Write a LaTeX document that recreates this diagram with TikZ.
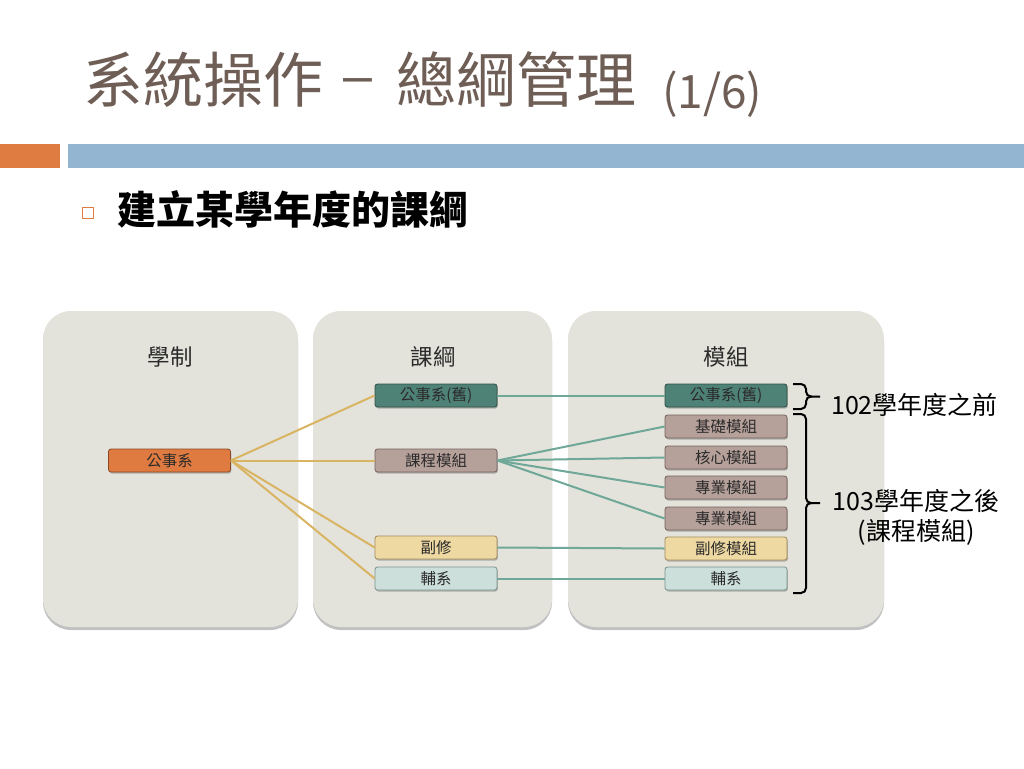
\documentclass[tikz,border=0pt]{standalone}
\usepackage{fontspec}
\setmainfont{Noto Sans CJK TC}
\newfontfamily\latinfont{Liberation Sans}
\usetikzlibrary{shadows}
\definecolor{titlecol}{HTML}{6E5E55}
\definecolor{barorange}{HTML}{DE7C42}
\definecolor{barblue}{HTML}{93B5D1}
\definecolor{panelfill}{HTML}{E3E3DB}
\definecolor{txtgray}{HTML}{2B2B2B}
\definecolor{goldln}{HTML}{D9B462}
\definecolor{tealln}{HTML}{6FA798}
\definecolor{fOrange}{HTML}{DF7B40}
\definecolor{dOrange}{HTML}{8A4A25}
\definecolor{fTeal}{HTML}{4F8276}
\definecolor{dTeal}{HTML}{2F4E47}
\definecolor{fMauve}{HTML}{B5A09A}
\definecolor{dMauve}{HTML}{76625C}
\definecolor{fYellow}{HTML}{EFD9A3}
\definecolor{dYellow}{HTML}{A08A5C}
\definecolor{fLight}{HTML}{CCDFDB}
\definecolor{dLight}{HTML}{7A928D}
\tikzset{
  panel/.style={fill=panelfill, rounded corners=28pt, draw=none,
    drop shadow={shadow xshift=0pt, shadow yshift=-3pt, opacity=0.4, fill=black!60}},
  box/.style={rectangle, rounded corners=2.5pt, minimum width=122pt, minimum height=23pt,
    inner sep=0pt, line width=0.8pt, text=txtgray, font=\fontsize{15.5}{17}\selectfont,
    drop shadow={shadow xshift=0.8pt, shadow yshift=-1.5pt, opacity=0.35, fill=black!70}},
  boxO/.style={box, fill=fOrange, draw=dOrange},
  boxT/.style={box, fill=fTeal, draw=dTeal},
  boxM/.style={box, fill=fMauve, draw=dMauve},
  boxY/.style={box, fill=fYellow, draw=dYellow},
  boxL/.style={box, fill=fLight, draw=dLight},
  head/.style={text=txtgray, font=\fontsize{22.5}{26}\selectfont, inner sep=0pt},
  titletext/.style={inner sep=0pt, text=titlecol},
  goldline/.style={draw=goldln, line width=2pt},
  tealline/.style={draw=tealln, line width=2pt},
  bracepath/.style={draw=black, line width=2pt, rounded corners=5pt},
  note/.style={text=black, font=\fontsize{25}{30}\selectfont, inner sep=0pt, align=center}
}
\begin{document}
\begin{tikzpicture}[x=1pt,y=-1pt]
\useasboundingbox[fill=white] (0,0) rectangle (1024,768);

% title
\node[titletext, anchor=base west, font=\fontsize{60}{66}\selectfont] (t1) at (83,102) {系統操作};
\node[titletext, anchor=base, font=\fontsize{52}{58}\latinfont] (t2) at (357.5,93) {–};
\node[titletext, anchor=base west, font=\fontsize{60}{66}\selectfont] (t3) at (396,102) {總綱管理};
\node[titletext, anchor=base west, font=\fontsize{46}{52}\selectfont] (t4) at (662,108) {(1/6)};

% bars
\fill[barorange] (0,144) rectangle (60,168);
\fill[barblue] (68,144) rectangle (1024,168);

% bullet
\node[draw=barorange, line width=1pt, minimum size=11pt, inner sep=0pt] (bul) at (87.5,212.5) {};
\node[anchor=west, inner sep=0pt, text=black, font=\fontsize{39}{44}\selectfont\bfseries] (sub) at (117,209) {建立某學年度的課綱};

% panels
\fill[panel] (43,311) rectangle (298,627);
\fill[panel] (313,311) rectangle (552,627);
\fill[panel] (568,311) rectangle (884,627);

\node[head] (h1) at (170,357) {學制};
\node[head] (h2) at (433,357) {課綱};
\node[head] (h3) at (726,357) {模組};

% nodes
\node[boxO] (gs) at (169.5,460.5) {公事系};

\node[boxT] (mo) at (436,395.5) {公事系(舊)};
\node[boxM] (mk) at (436,460.5) {課程模組};
\node[boxY] (mf) at (436,547.5) {副修};
\node[boxL] (mb) at (436,578.5) {輔系};

\node[boxT] (r0) at (726,395.5) {公事系(舊)};
\node[boxM] (r1) at (726,426.5) {基礎模組};
\node[boxM] (r2) at (726,457.5) {核心模組};
\node[boxM] (r3) at (726,487.5) {專業模組};
\node[boxM] (r4) at (726,518.5) {專業模組};
\node[boxY] (r5) at (726,548.5) {副修模組};
\node[boxL] (r6) at (726,578.5) {輔系};

% connectors
\draw[goldline] (gs.east) -- (mo.west);
\draw[goldline] (gs.east) -- (mk.west);
\draw[goldline] (gs.east) -- (mf.west);
\draw[goldline] (gs.east) -- (mb.west);

\draw[tealline] (mo.east) -- (r0.west);
\draw[tealline] (mk.east) -- (r1.west);
\draw[tealline] (mk.east) -- (r2.west);
\draw[tealline] (mk.east) -- (r3.west);
\draw[tealline] (mk.east) -- (r4.west);
\draw[tealline] (mf.east) -- (r5.west);
\draw[tealline] (mb.east) -- (r6.west);

% braces
\coordinate (b1t) at (793,384);
\coordinate (b1m) at (806,396.5);
\coordinate (b1e) at (820,396.5);
\coordinate (b1b) at (793,409);
\draw[bracepath] (b1t) -| (b1m) -- (b1e);
\draw[bracepath] (b1b) -| (b1m) -- ([xshift=6pt]b1m);

\coordinate (b2t) at (793,414);
\coordinate (b2m) at (806,503);
\coordinate (b2e) at (820,503);
\coordinate (b2b) at (793,593);
\draw[bracepath] (b2t) -| (b2m) -- (b2e);
\draw[bracepath] (b2b) -| (b2m) -- ([xshift=6pt]b2m);

\node[note, anchor=west] (n1) at (831,405) {102學年度之前};
\node[note] (n2) at (916,517) {103學年度之後\\(課程模組)};
\end{tikzpicture}
\end{document}
